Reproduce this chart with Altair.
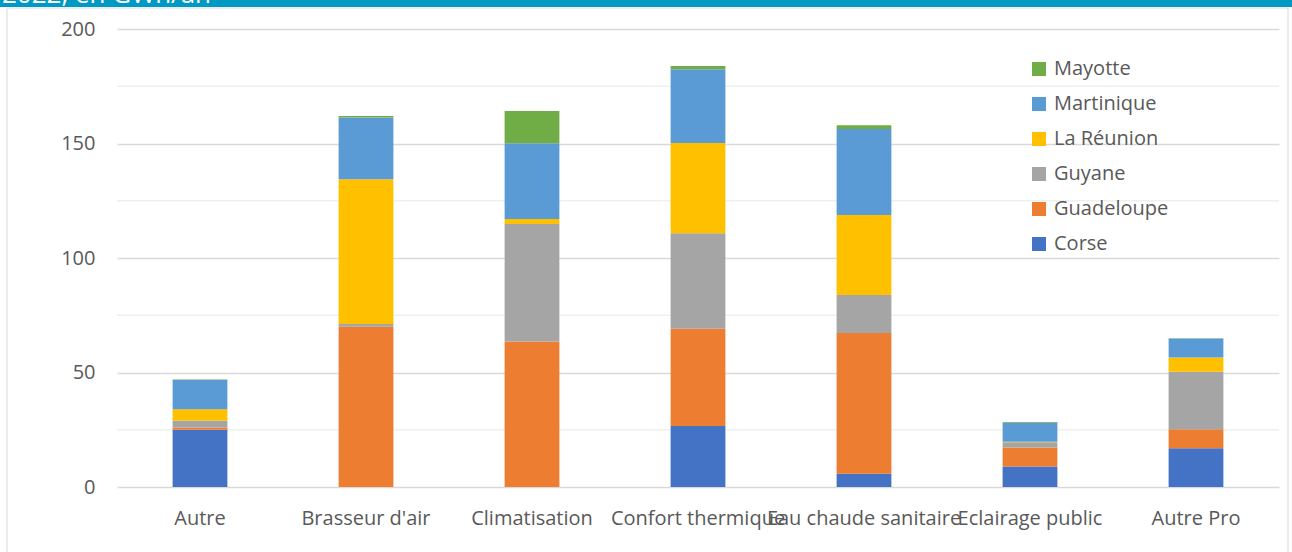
import altair as alt
import pandas as pd

categories = ["Autre", "Brasseur d'air", "Climatisation", "Confort thermique",
              "Eau chaude sanitaire", "Eclairage public", "Autre Pro"]
series = ["Corse", "Guadeloupe", "Guyane", "La Réunion", "Martinique", "Mayotte"]
colors = ["#4472C4", "#ED7D31", "#A5A5A5", "#FFC000", "#5B9BD5", "#70AD47"]

corse = [25.0, 0.0, 0.0, 26.6, 5.8, 8.9, 16.9]
guadeloupe = [1.0, 70.0, 63.5, 42.5, 61.4, 8.3, 8.3]
guyane = [2.9, 1.2, 51.3, 41.7, 16.6, 2.3, 25.1]
reunion = [5.1, 63.2, 2.2, 39.4, 35.0, 0.3, 6.3]
martinique = [12.7, 27.0, 33.1, 32.2, 37.5, 8.3, 8.2]
mayotte = [0.2, 0.6, 14.1, 1.4, 1.7, 0.3, 0.2]

major_ticks = [0, 50, 100, 150, 200]
minor_ticks = [25, 75, 125, 175]
banner_text = ["2022, en GWh/an"]

values = [corse, guadeloupe, guyane, reunion, martinique, mayotte]
rows = []
for si, (name, vals) in enumerate(zip(series, values)):
    for c, v in zip(categories, vals):
        rows.append({"cat": c, "serie": name, "val": v, "ord": si})
df = pd.DataFrame(rows)

FONT = "Open Sans"
TXT = "#595959"
yscale = alt.Scale(domain=[0, 200], nice=False, zero=True)
yaxis = alt.Axis(values=major_ticks, labelFont=FONT, labelFontSize=20,
                 labelColor=TXT, domain=False, ticks=False,
                 labelPadding=22, grid=True, gridColor="#d9d9d9",
                 gridWidth=1.3)

legend_order = series[::-1]
legend_colors = colors[::-1]

minor = alt.Chart(pd.DataFrame({"v": minor_ticks})).mark_rule(
    color="#efefef", strokeWidth=1.3
).encode(y=alt.Y("v:Q", scale=yscale, axis=yaxis, title=None))

bars = alt.Chart(df).mark_bar().encode(
    x=alt.X("cat:N", sort=categories, title=None,
            scale=alt.Scale(paddingInner=0.67, paddingOuter=0.335),
            axis=alt.Axis(labelAngle=0, labelFont=FONT, labelFontSize=20,
                          labelColor=TXT, domain=False, ticks=False,
                          labelPadding=21, labelOverlap=False, labelLimit=400)),
    y=alt.Y("val:Q", stack="zero", scale=yscale, title=None, axis=yaxis),
    color=alt.Color("serie:N", title=None,
                    scale=alt.Scale(domain=legend_order, range=legend_colors),
                    legend=alt.Legend(orient="none", legendX=912, legendY=30,
                                      symbolType="square", symbolSize=196,
                                      symbolStrokeWidth=0, labelFont=FONT,
                                      labelFontSize=20, labelColor=TXT,
                                      labelOffset=5, rowPadding=15, padding=0)),
    order=alt.Order("ord:Q", sort="ascending"),
)

one = pd.DataFrame({"a": [0]})
border = alt.Chart(one).mark_rect(
    fillOpacity=0, stroke="#d9d9d9", strokeWidth=1
).encode(x=alt.value(-110), x2=alt.value(1171), y=alt.value(-21), y2=alt.value(560))

banner = alt.Chart(one).mark_rect(color="#0099C4").encode(
    x=alt.value(-117), x2=alt.value(1175), y=alt.value(-29), y2=alt.value(-22))

banner_t = alt.Chart(pd.DataFrame({"t": banner_text})).mark_text(
    color="white", font=FONT, fontSize=26, align="left", baseline="alphabetic"
).encode(text="t:N", x=alt.value(-115), y=alt.value(-26))

chart = alt.layer(minor, bars, border, banner, banner_t).properties(
    width=1162, height=458,
    background="white",
    autosize=alt.AutoSizeParams(type="none"),
    padding={"left": 117, "top": 29, "right": 13, "bottom": 65},
).configure_view(strokeWidth=0, stroke="transparent")

chart.save("out.html", embed_options={"renderer": "svg", "actions": False})
